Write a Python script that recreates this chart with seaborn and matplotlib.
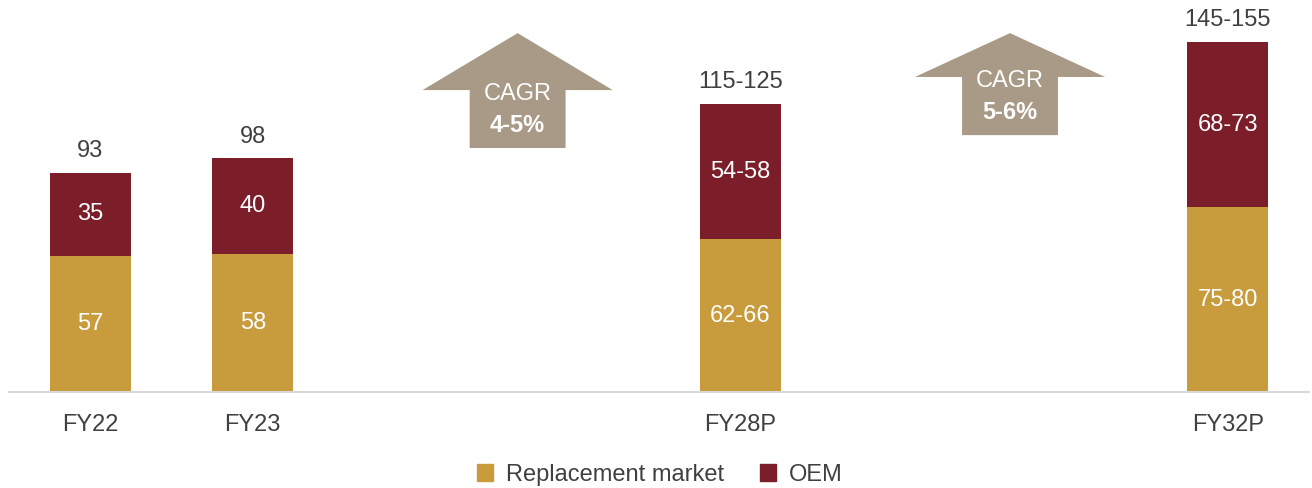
import matplotlib
matplotlib.use('Agg')
import matplotlib.pyplot as plt
import seaborn as sns
import pandas as pd
from matplotlib.patches import Polygon, Patch

# data
years = ['FY22', 'FY23', 'FY28P', 'FY32P']
replacement = [57, 58, 64, 77.5]
oem = [35, 40, 57, 69.5]
replacement_labels = ['57', '58', '62-66', '75-80']
oem_labels = ['35', '40', '54-58', '68-73']
total_labels = ['93', '98', '115-125', '145-155']
cagr_labels = ['4-5%', '5-6%']

# slot order: empty slots between the historical and projected years
order = ['FY22', 'FY23', 'gap1', 'gap2', 'FY28P', 'gap3', 'gap4', 'FY32P']

REPL = '#C89B3C'
OEM = '#7B1E2A'
ARROW = '#A89A87'
TEXT = '#404040'
FS = 17

sns.set_theme(style='white')
plt.rcParams['font.family'] = ['Liberation Sans', 'DejaVu Sans']

df = pd.DataFrame({'year': years, 'replacement': replacement, 'oem': oem})
df['total'] = df['replacement'] + df['oem']

fig = plt.figure(figsize=(13.12, 4.88), dpi=100)
ax = fig.add_axes([9 / 1312, 96 / 488, 1300 / 1312, 392 / 488])

sns.barplot(data=df, x='year', y='total', order=order, color=OEM,
            width=0.5, saturation=1, linewidth=0, ax=ax)
sns.barplot(data=df, x='year', y='replacement', order=order, color=REPL,
            width=0.5, saturation=1, linewidth=0, ax=ax)

ax.set_xlim(-0.5, 7.5)
ax.set_ylim(0, 164.5)

for i, yr in enumerate(years):
    x = order.index(yr)
    r = df.loc[i, 'replacement']
    o = df.loc[i, 'oem']
    ax.text(x, r / 2, replacement_labels[i], ha='center', va='center',
            color='white', fontsize=FS)
    ax.text(x, r + o / 2, oem_labels[i], ha='center', va='center',
            color='white', fontsize=FS)
    ax.text(x, r + o + 4.5, total_labels[i], ha='center', va='bottom',
            color=TEXT, fontsize=FS)

# CAGR arrows between the periods
arrows = [
    (2.63, 102.4, 126.7, 150.6),
    (5.66, 107.8, 132.2, 150.6),
]
for (cx, bottom, neck, tip), lab in zip(arrows, cagr_labels):
    hw, sw = 0.585, 0.295
    pts = [(cx - sw, bottom), (cx - sw, neck), (cx - hw, neck), (cx, tip),
           (cx + hw, neck), (cx + sw, neck), (cx + sw, bottom)]
    ax.add_patch(Polygon(pts, closed=True, facecolor=ARROW, edgecolor='none'))
    ax.text(cx, neck - 1.5, 'CAGR', ha='center', va='center', color='white',
            fontsize=FS)
    ax.text(cx, neck - 15, lab, ha='center', va='center', color='white',
            fontsize=FS, fontweight='bold')

ax.set_xticks(range(len(order)))
ax.set_xticklabels([o if not o.startswith('gap') else '' for o in order],
                   fontsize=FS, color=TEXT)
ax.tick_params(axis='x', length=0, pad=16)
ax.set_yticks([])
ax.set_xlabel('')
ax.set_ylabel('')
for s in ['top', 'right', 'left']:
    ax.spines[s].set_visible(False)
ax.spines['bottom'].set_color('#D9D9D9')
ax.spines['bottom'].set_linewidth(1.5)

handles = [Patch(color=REPL, label='Replacement market'),
           Patch(color=OEM, label='OEM')]
fig.legend(handles=handles, loc='center', bbox_to_anchor=(0.503, 0.027),
           ncol=2, frameon=False, fontsize=FS, handlelength=0.7,
           handleheight=0.7, columnspacing=1.5, handletextpad=0.55,
           labelcolor=TEXT)

fig.savefig('out.png', dpi=100)
plt.close(fig)
